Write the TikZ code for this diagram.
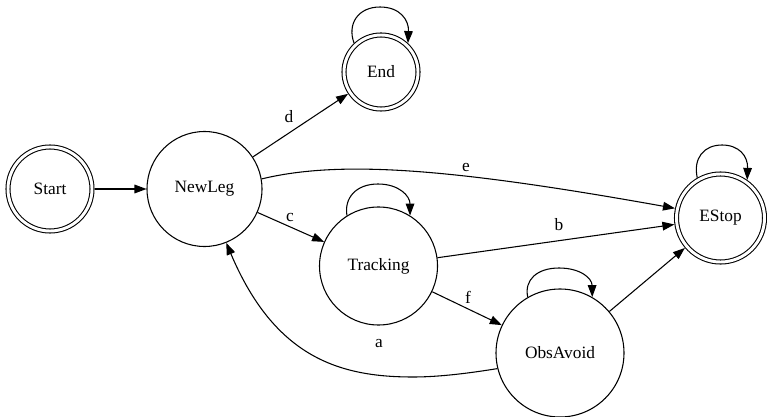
\documentclass[tikz,border=0pt]{standalone}
\usepackage{fontspec}
\setmainfont{Liberation Serif}
\usetikzlibrary{arrows.meta}
\begin{document}
\begin{tikzpicture}[x=0.75pt,y=-0.75pt,line width=0.8pt,
  every node/.style={font=\fontsize{13}{15}\selectfont},
  st/.style={circle,draw,minimum size=#1,inner sep=0pt,outer sep=0.4pt},
  accst/.style={circle,draw,double,double distance=2.2pt,minimum size=#1,inner sep=0pt,outer sep=1.9pt},
  arr/.style={-{Triangle[length=9pt,width=6.5pt]}},
  lbl/.style={inner sep=0pt}]
\useasboundingbox (0,0) rectangle (767,417);

\node[accst=63pt] (Start) at (50,189) {Start};
\node[st=86.25pt] (NewLeg) at (204.5,189) {NewLeg};
\node[accst=55.5pt] (End) at (381,72) {End};
\node[st=88.5pt] (Tracking) at (378.5,266) {Tracking};
\node[st=96pt] (ObsAvoid) at (560,353) {ObsAvoid};
\node[accst=66pt] (EStop) at (720.5,218) {EStop};

\draw[arr] (Start) -- (NewLeg);
\draw[arr] (NewLeg) -- (End);
\draw[arr] (NewLeg) -- (Tracking);
\draw[arr] (Tracking) -- (ObsAvoid);
\draw[arr] (Tracking) -- (EStop);
\draw[arr] (ObsAvoid) -- (EStop);
\draw[arr] (NewLeg.10) .. controls (340,160) and (450,168) .. (EStop.168);
\draw[arr] (ObsAvoid.194) .. controls (470,373) and (440,377) .. (413,377)
  .. controls (340,377) and (275,358) .. (NewLeg.292);

\draw[arr] (End.133) .. controls (347,24) and (358,7) .. (380,7)
  .. controls (400,7) and (409,20) .. (End.47);
\draw[arr] (Tracking.122) .. controls (344,198) and (356,184) .. (378,184)
  .. controls (399,184) and (410,196) .. (Tracking.58);
\draw[arr] (ObsAvoid.120) .. controls (524,280) and (537,268) .. (559,268)
  .. controls (580,268) and (592,278) .. (ObsAvoid.60);
\draw[arr] (EStop.120) .. controls (693,158) and (704,145) .. (722,145)
  .. controls (739,145) and (748,156) .. (EStop.55);

\node[lbl] (ld) at (289,117) {d};
\node[lbl] (le) at (466,168) {e};
\node[lbl] (lc) at (290,218) {c};
\node[lbl] (lb) at (559,225) {b};
\node[lbl] (la) at (379,344) {a};
\node[lbl] (lf) at (468,297) {f};
\end{tikzpicture}
\end{document}
